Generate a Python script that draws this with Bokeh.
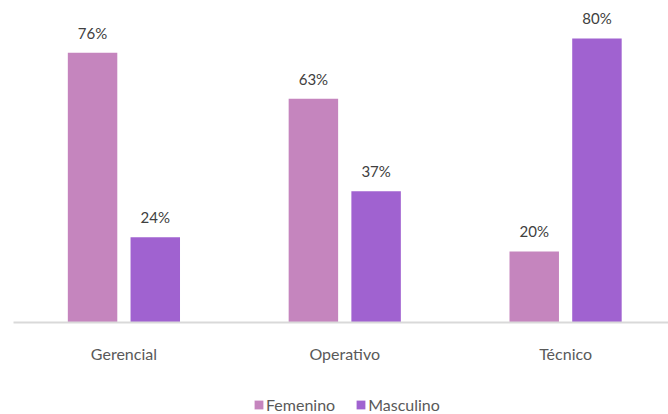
from bokeh.plotting import figure
from bokeh.layouts import column
from bokeh.models import ColumnDataSource, Range1d, FixedTicker, Legend, LegendItem
from bokeh.core.properties import value
from bokeh.embed import file_html
from bokeh.resources import INLINE

categories = ["Gerencial", "Operativo", "Técnico"]
femenino = [76, 63, 20]
masculino = [24, 37, 80]
series_names = ["Femenino", "Masculino"]

FONT = "Lato"
colors = ["#C585BE", "#A062D0"]

pos = [i + 0.5 for i in range(len(categories))]
off = 0.142
bw = 0.224

p = figure(frame_width=655, frame_height=314, output_backend="svg", toolbar_location=None,
           x_range=Range1d(0, 2.966), y_range=Range1d(0, 88.45),
           min_border_left=13, min_border_right=0, min_border_top=8, min_border_bottom=48)
p.outline_line_color = None
p.grid.grid_line_color = None
p.yaxis.visible = False
p.background_fill_color = "white"

src_f = ColumnDataSource(dict(x=[v - off for v in pos], top=femenino,
                              lab=[f"{v}%" for v in femenino]))
src_m = ColumnDataSource(dict(x=[v + off for v in pos], top=masculino,
                              lab=[f"{v}%" for v in masculino]))

rf = p.vbar(x="x", top="top", width=bw, source=src_f, fill_color=colors[0], line_color=None)
rm = p.vbar(x="x", top="top", width=bw, source=src_m, fill_color=colors[1], line_color=None)

for s in (src_f, src_m):
    p.text(x="x", y="top", text="lab", source=s, text_align="center", text_baseline="alphabetic",
           y_offset=-20, text_font=value(FONT), text_font_size="15px", text_color="#404040")

ax = p.xaxis[0]
ax.ticker = FixedTicker(ticks=pos)
ax.major_label_overrides = {v: c for v, c in zip(pos, categories)}
ax.major_tick_line_color = None
ax.minor_tick_line_color = None
ax.axis_line_color = "#D9D9D9"
ax.axis_line_width = 2
ax.major_label_standoff = 15
ax.major_label_text_font = FONT
ax.major_label_text_font_size = "16px"
ax.major_label_text_color = "#595959"

# legend strip below the chart (same data, ranges kept out of view so only the legend shows)
lg = figure(frame_width=668, frame_height=44, output_backend="svg", toolbar_location=None,
            x_range=Range1d(100, 101), y_range=Range1d(1000, 1001),
            x_axis_location=None, y_axis_location=None,
            min_border_left=0, min_border_right=0, min_border_top=0, min_border_bottom=0)
lg.outline_line_color = None
lg.grid.grid_line_color = None
lf = lg.vbar(x="x", top="top", width=bw, source=src_f, fill_color=colors[0], line_color=None)
lm = lg.vbar(x="x", top="top", width=bw, source=src_m, fill_color=colors[1], line_color=None)
legend = Legend(items=[LegendItem(label=series_names[0], renderers=[lf]),
                       LegendItem(label=series_names[1], renderers=[lm])],
                orientation="horizontal", location=(253, 0),
                label_text_font=FONT, label_text_font_size="16px", label_text_color="#595959",
                glyph_width=11, glyph_height=11, label_standoff=2, spacing=20,
                padding=0, margin=0, border_line_color=None, background_fill_alpha=0)
lg.add_layout(legend, "center")

layout = column(p, lg, spacing=0)
open("out.html", "w").write(file_html(layout, INLINE))
